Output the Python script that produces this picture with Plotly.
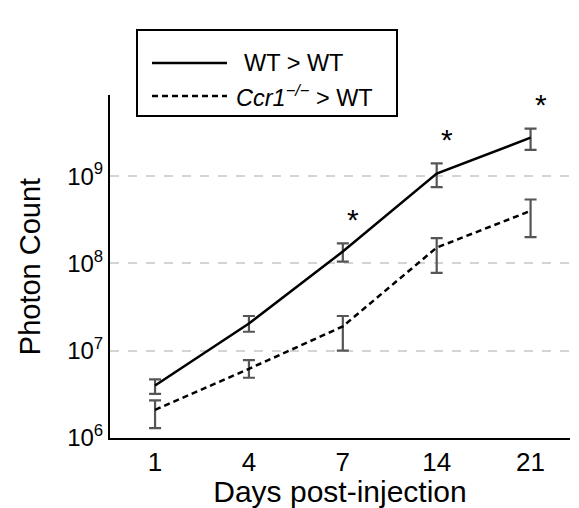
import numpy as np
import plotly.graph_objects as go

days = ["1", "4", "7", "14", "21"]
wt_mean = [4.0e6, 2.05e7, 1.37e8, 1.07e9, 2.76e9]
wt_upper = [4.7e6, 2.5e7, 1.7e8, 1.4e9, 3.5e9]
wt_lower = [3.2e6, 1.65e7, 1.05e8, 7.5e8, 2.0e9]
ko_mean = [2.1e6, 6.2e6, 1.9e7, 1.52e8, 4.0e8]
ko_upper = [2.7e6, 7.8e6, 2.5e7, 1.95e8, 5.4e8]
ko_lower = [1.3e6, 4.9e6, 1.0e7, 7.8e7, 2.0e8]
sig_days = ["7", "14", "21"]

FONT = "Liberation Sans, Arial, Helvetica, sans-serif"
ERR = "#555555"

fig = go.Figure()
fig.add_trace(go.Scatter(
    x=days, y=wt_mean, mode="lines",
    line=dict(color="black", width=2.5),
    error_y=dict(type="data", symmetric=False,
                 array=[u - m for u, m in zip(wt_upper, wt_mean)],
                 arrayminus=[m - l for m, l in zip(wt_mean, wt_lower)],
                 color=ERR, thickness=2.2, width=6),
    showlegend=False))
fig.add_trace(go.Scatter(
    x=days, y=ko_mean, mode="lines",
    line=dict(color="black", width=2.5, dash="6px,4px"),
    error_y=dict(type="data", symmetric=False,
                 array=[u - m for u, m in zip(ko_upper, ko_mean)],
                 arrayminus=[m - l for m, l in zip(ko_mean, ko_lower)],
                 color=ERR, thickness=2.2, width=6),
    showlegend=False))

L, R, T, B = 110, 9, 95, 70
W, H = 579, 508
pw, ph = W - L - R, H - T - B

def px(x):
    return (x - L) / pw

def py(y):
    return (H - B - y) / ph

annotations = []
for d in sig_days:
    i = days.index(d)
    annotations.append(dict(
        x=i + 0.11, y=np.log10(wt_upper[i]) + 0.06, xref="x", yref="y",
        text="*", showarrow=False, yanchor="bottom", xanchor="center",
        font=dict(size=30, color="black", family=FONT)))

shapes = [
    dict(type="rect", xref="paper", yref="paper",
         x0=px(137), x1=px(397), y0=py(116), y1=py(30),
         line=dict(color="black", width=2), fillcolor="white"),
    dict(type="line", xref="paper", yref="paper",
         x0=px(152), x1=px(227), y0=py(63), y1=py(63),
         line=dict(color="black", width=2.5)),
    dict(type="line", xref="paper", yref="paper",
         x0=px(152), x1=px(227), y0=py(96), y1=py(96),
         line=dict(color="black", width=2.5, dash="6px,4px")),
]
annotations += [
    dict(x=px(242), y=py(63), xref="paper", yref="paper", text="WT &gt; WT",
         showarrow=False, xanchor="left", yanchor="middle",
         font=dict(size=23.5, color="black", family=FONT)),
    dict(x=px(234), y=py(96), xref="paper", yref="paper",
         text="<i>Ccr1<sup>−/−</sup></i> &gt; WT",
         showarrow=False, xanchor="left", yanchor="middle",
         font=dict(size=23.5, color="black", family=FONT)),
]

fig.update_layout(
    width=W, height=H,
    margin=dict(l=L, r=R, t=T, b=B),
    plot_bgcolor="white", paper_bgcolor="white",
    font=dict(family=FONT, color="black", size=22),
    shapes=shapes, annotations=annotations,
)
fig.update_xaxes(
    type="category", range=[-0.48, 4.42],
    showline=True, linecolor="black", linewidth=2,
    showgrid=False, ticks="", tickfont=dict(size=26),
    title=dict(text="Days post-injection", font=dict(size=30), standoff=0),
)
fig.update_yaxes(
    type="log", range=[6, 9.93],
    tickvals=[1e6, 1e7, 1e8, 1e9],
    ticktext=["10<sup>6</sup>", "10<sup>7</sup>", "10<sup>8</sup>", "10<sup>9</sup>"],
    showline=True, linecolor="black", linewidth=2,
    showgrid=True, gridcolor="#d4d4d4", gridwidth=2, griddash="dash",
    ticks="", tickfont=dict(size=24),
    title=dict(text="Photon Count", font=dict(size=29), standoff=18),
    zeroline=False,
)

fig.write_html("out.html", config={"displayModeBar": False})
with open("out.html", "r", encoding="utf-8") as f:
    html = f.read()
html = html.replace("<head>", "<head><style>html,body{margin:0;padding:0;overflow:hidden}</style>", 1)
with open("out.html", "w", encoding="utf-8") as f:
    f.write(html)
